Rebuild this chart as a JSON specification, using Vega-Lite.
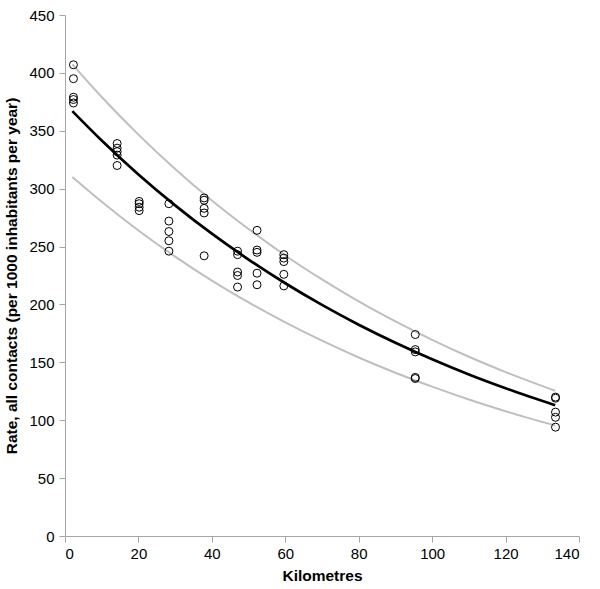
{
  "$schema": "https://vega.github.io/schema/vega-lite/v6.json",
  "width": 514,
  "height": 521,
  "autosize": "none",
  "padding": {"left": 65, "top": 15, "right": 21, "bottom": 53},
  "background": "white",
  "config": {
    "view": {"stroke": null},
    "font": "Liberation Sans",
    "axis": {
      "grid": false,
      "domainColor": "#a6a6a6",
      "tickColor": "#a6a6a6",
      "tickSize": 6,
      "labelColor": "#000000",
      "labelFontSize": 15,
      "titleColor": "#000000",
      "titleFontSize": 15.5,
      "titleFontWeight": "bold"
    }
  },
  "datasets": {
    "points": [
      {"km": 2.3, "rate": 407}, {"km": 2.3, "rate": 395}, {"km": 2.3, "rate": 379}, {"km": 2.3, "rate": 377}, {"km": 2.3, "rate": 374},
      {"km": 14.2, "rate": 339}, {"km": 14.2, "rate": 335}, {"km": 14.2, "rate": 332}, {"km": 14.2, "rate": 329}, {"km": 14.2, "rate": 320},
      {"km": 20.2, "rate": 289}, {"km": 20.2, "rate": 287}, {"km": 20.2, "rate": 284}, {"km": 20.2, "rate": 281},
      {"km": 28.3, "rate": 287}, {"km": 28.3, "rate": 272}, {"km": 28.3, "rate": 263}, {"km": 28.3, "rate": 255}, {"km": 28.3, "rate": 246},
      {"km": 37.9, "rate": 292}, {"km": 37.9, "rate": 290}, {"km": 37.9, "rate": 283}, {"km": 37.9, "rate": 279}, {"km": 37.9, "rate": 242},
      {"km": 47.0, "rate": 246}, {"km": 47.0, "rate": 243}, {"km": 47.0, "rate": 228}, {"km": 47.0, "rate": 225}, {"km": 47.0, "rate": 215},
      {"km": 52.3, "rate": 264}, {"km": 52.3, "rate": 247}, {"km": 52.3, "rate": 245}, {"km": 52.3, "rate": 227}, {"km": 52.3, "rate": 217},
      {"km": 59.6, "rate": 243}, {"km": 59.6, "rate": 240}, {"km": 59.6, "rate": 237}, {"km": 59.6, "rate": 226}, {"km": 59.6, "rate": 216},
      {"km": 95.4, "rate": 174}, {"km": 95.4, "rate": 161}, {"km": 95.4, "rate": 159}, {"km": 95.4, "rate": 137}, {"km": 95.4, "rate": 136},
      {"km": 133.6, "rate": 120}, {"km": 133.6, "rate": 119}, {"km": 133.6, "rate": 107}, {"km": 133.6, "rate": 102.5}, {"km": 133.6, "rate": 94}
    ],
    "curves": [
      {"km": 2, "rate": 367.0, "curve": "fit"}, {"km": 10, "rate": 341.6, "curve": "fit"}, {"km": 20, "rate": 312.3, "curve": "fit"},
      {"km": 30, "rate": 285.6, "curve": "fit"}, {"km": 40, "rate": 261.1, "curve": "fit"}, {"km": 50, "rate": 238.8, "curve": "fit"},
      {"km": 60, "rate": 218.3, "curve": "fit"}, {"km": 70, "rate": 199.6, "curve": "fit"}, {"km": 80, "rate": 182.5, "curve": "fit"},
      {"km": 90, "rate": 166.9, "curve": "fit"}, {"km": 100, "rate": 152.6, "curve": "fit"}, {"km": 110, "rate": 139.5, "curve": "fit"},
      {"km": 120, "rate": 127.6, "curve": "fit"}, {"km": 133.5, "rate": 113.0, "curve": "fit"},
      {"km": 2, "rate": 407.4, "curve": "upper"}, {"km": 10, "rate": 379.2, "curve": "upper"}, {"km": 20, "rate": 346.7, "curve": "upper"},
      {"km": 30, "rate": 317.0, "curve": "upper"}, {"km": 40, "rate": 289.8, "curve": "upper"}, {"km": 50, "rate": 265.1, "curve": "upper"},
      {"km": 60, "rate": 242.3, "curve": "upper"}, {"km": 70, "rate": 221.6, "curve": "upper"}, {"km": 80, "rate": 202.6, "curve": "upper"},
      {"km": 90, "rate": 185.3, "curve": "upper"}, {"km": 100, "rate": 169.4, "curve": "upper"}, {"km": 110, "rate": 154.8, "curve": "upper"},
      {"km": 120, "rate": 141.6, "curve": "upper"}, {"km": 133.5, "rate": 125.4, "curve": "upper"},
      {"km": 2, "rate": 310.1, "curve": "lower"}, {"km": 10, "rate": 288.7, "curve": "lower"}, {"km": 20, "rate": 263.9, "curve": "lower"},
      {"km": 30, "rate": 241.3, "curve": "lower"}, {"km": 40, "rate": 220.6, "curve": "lower"}, {"km": 50, "rate": 201.8, "curve": "lower"},
      {"km": 60, "rate": 184.5, "curve": "lower"}, {"km": 70, "rate": 168.7, "curve": "lower"}, {"km": 80, "rate": 154.2, "curve": "lower"},
      {"km": 90, "rate": 141.0, "curve": "lower"}, {"km": 100, "rate": 129.0, "curve": "lower"}, {"km": 110, "rate": 117.9, "curve": "lower"},
      {"km": 120, "rate": 107.8, "curve": "lower"}, {"km": 133.5, "rate": 95.5, "curve": "lower"}
    ]
  },
  "encoding": {
    "x": {
      "field": "km",
      "type": "quantitative",
      "title": "Kilometres",
      "scale": {"domain": [0, 140], "nice": false},
      "axis": {"values": [0, 20, 40, 60, 80, 100, 120, 140], "labelPadding": 4, "titlePadding": 7}
    },
    "y": {
      "field": "rate",
      "type": "quantitative",
      "title": "Rate, all contacts (per 1000 inhabitants per year)",
      "scale": {"domain": [0, 450], "nice": false},
      "axis": {"values": [0, 50, 100, 150, 200, 250, 300, 350, 400, 450], "labelPadding": 5, "titlePadding": 9}
    }
  },
  "layer": [
    {
      "data": {"name": "curves"},
      "transform": [{"filter": "datum.curve != 'fit'"}],
      "mark": {"type": "line", "color": "#bfbfbf", "strokeWidth": 2, "interpolate": "monotone"},
      "encoding": {"detail": {"field": "curve"}}
    },
    {
      "data": {"name": "curves"},
      "transform": [{"filter": "datum.curve == 'fit'"}],
      "mark": {"type": "line", "color": "#000000", "strokeWidth": 2.7, "interpolate": "monotone"}
    },
    {
      "data": {"name": "points"},
      "mark": {"type": "point", "shape": "circle", "filled": false, "color": "#000000", "strokeWidth": 1, "size": 64, "opacity": 1}
    }
  ]
}
